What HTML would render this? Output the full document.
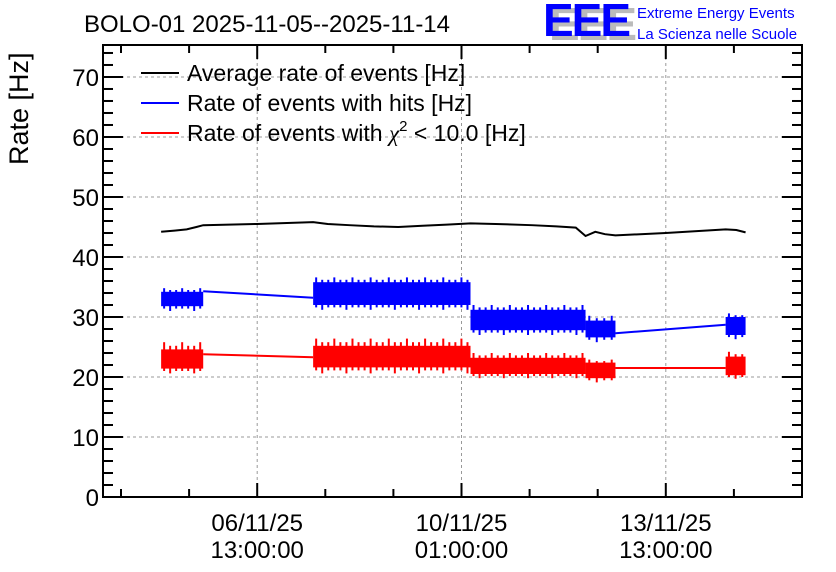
<!DOCTYPE html>
<html><head><meta charset="utf-8"><style>
html,body{margin:0;padding:0;background:#fff;}
svg{display:block;font-family:"Liberation Sans",sans-serif;}
</style></head><body>
<svg id="chart" width="836" height="572" viewBox="0 0 836 572" xmlns="http://www.w3.org/2000/svg">
<rect width="836" height="572" fill="#fff"/>
<text x="84" y="32" font-size="24">BOLO-01 2025-11-05--2025-11-14</text>
<g>
<text x="549" y="40" font-size="46" fill="#bbb" font-weight="bold" letter-spacing="-2">EEE</text>
<text x="543" y="36" font-size="46" fill="#00f" font-weight="bold" letter-spacing="-2">EEE</text>
<text x="637" y="18" font-size="15" fill="#00f">Extreme Energy Events</text>
<text x="637" y="39" font-size="15" fill="#00f">La Scienza nelle Scuole</text>
</g>
<text transform="translate(28,165) rotate(-90)" font-size="27">Rate [Hz]</text>
<g id="grid"></g>
<g id="series"></g>
<g id="axes"></g>
<g>
<g><line x1="141" y1="73" x2="179" y2="73" stroke="#000" stroke-width="2"/><text x="187" y="81" font-size="23">Average rate of events [Hz]</text></g>
<g><line x1="141" y1="103" x2="179" y2="103" stroke="#00f" stroke-width="2"/><text x="187" y="111" font-size="23">Rate of events with hits [Hz]</text></g>
<g><line x1="141" y1="133" x2="179" y2="133" stroke="#f00" stroke-width="2"/><text x="187" y="141" font-size="23">Rate of events with <tspan font-family="Liberation Serif" font-style="italic">χ</tspan><tspan font-size="15" dy="-10">2</tspan><tspan dy="10"> &lt; 10.0 [Hz]</tspan></text></g>
</g>
</svg>
<script>
// hours since 2025-11-05 00:00
const majorTicks = [37, 121, 205];
const majorLabels1 = ["06/11/25", "10/11/25", "13/11/25"];
const majorLabels2 = ["13:00:00", "01:00:00", "13:00:00"];
const minorTicks = [-19, 9, 37, 65, 93, 121, 149, 177, 205, 233];
const yTicks = [0, 10, 20, 30, 40, 50, 60, 70];
// noisy band segments (core) and extreme spikes
const bandStart = [-2.5, 60, 124.7, 172, 229.6];
const bandEnd = [14.8, 124.7, 172, 184.3, 237.8];
const hitsLo = [31.8, 32.0, 27.8, 26.6, 27.0];
const hitsHi = [34.2, 35.8, 31.2, 29.4, 30.0];
const hitsMin = [31.0, 31.2, 27.0, 25.8, 26.3];
const hitsMax = [34.8, 36.6, 32.0, 30.2, 30.6];
const chiLo = [21.4, 21.6, 20.5, 19.8, 20.3];
const chiHi = [24.6, 25.2, 23.2, 22.4, 23.4];
const chiMin = [20.6, 20.6, 19.8, 19.1, 19.7];
const chiMax = [25.8, 26.4, 24.0, 22.9, 24.2];
// gap lines between bands
const hitsGapT = [14.8, 60, 184.3, 229.6];
const hitsGapV = [34.3, 33.2, 27.3, 28.7];
const chiGapT = [14.8, 60, 184.3, 229.6];
const chiGapV = [23.8, 23.3, 21.5, 21.5];
// average rate
const avgT = [-2.5, 3, 8, 12, 14.8, 37, 60, 66, 75, 85, 95, 105, 115, 124.7, 135, 150, 160, 168, 172, 176, 180, 184.3, 205, 229.6, 234, 237.8];
const avgV = [44.2, 44.4, 44.6, 45.0, 45.3, 45.5, 45.8, 45.5, 45.3, 45.1, 45.0, 45.2, 45.4, 45.6, 45.5, 45.3, 45.1, 44.9, 43.5, 44.2, 43.8, 43.6, 44.0, 44.6, 44.5, 44.1];

const X0 = 103, X1 = 802, Y0 = 497, Y1 = 45;
const tMin = -26.4, tMax = 261;
const vMin = 0, vMax = 75.33;
function xs(t){ return X0 + (t - tMin) / (tMax - tMin) * (X1 - X0); }
function ys(v){ return Y0 - (v - vMin) / (vMax - vMin) * (Y0 - Y1); }
const NS = "http://www.w3.org/2000/svg";
function mk(tag, attrs, parent){ const e = document.createElementNS(NS, tag); for (const k in attrs) e.setAttribute(k, attrs[k]); parent.appendChild(e); return e; }
const grid = document.getElementById("grid"), ser = document.getElementById("series"), ax = document.getElementById("axes");

yTicks.forEach(v => {
  if (v > 0) {
    const g = mk("line", {x1: X0, x2: X1, y1: ys(v), y2: ys(v), stroke: "#999", "stroke-dasharray": "3,3", "stroke-width": 1}, grid);
    
    
  }
});
majorTicks.forEach(t => {
  const g = mk("line", {x1: xs(t), x2: xs(t), y1: Y1, y2: Y0, stroke: "#999", "stroke-dasharray": "3,3", "stroke-width": 1}, grid);
  
  
});

function bands(lo, hi, mn, mx, color, name){
  bandStart.forEach((s, i) => {
    const x0 = xs(s), x1 = xs(bandEnd[i]);
    const r = mk("rect", {x: x0, y: ys(hi[i]), width: x1 - x0, height: ys(lo[i]) - ys(hi[i]), fill: color}, ser);
    
    
    // spikes toward extremes
    const n = Math.max(2, Math.floor((x1 - x0) / 6));
    for (let k = 0; k < n; k++) {
      const x = x0 + (k + 0.5) * (x1 - x0) / n;
      const up = (k % 3 === 0) ? mx[i] : (hi[i] + mx[i]) / 2;
      const dn = (k % 4 === 1) ? mn[i] : (lo[i] + mn[i]) / 2;
      const sp = mk("line", {x1: x, x2: x, y1: ys(up), y2: ys(dn), stroke: color, "stroke-width": 2}, ser);
      
      
    }
  });
}
function gaps(T, V, color, name){
  for (let i = 0; i < T.length; i += 2) {
    const l = mk("line", {x1: xs(T[i]), y1: ys(V[i]), x2: xs(T[i+1]), y2: ys(V[i+1]), stroke: color, "stroke-width": 2}, ser);
    
    
  }
}
bands(hitsLo, hitsHi, hitsMin, hitsMax, "#00f", "hits");
gaps(hitsGapT, hitsGapV, "#00f", "hits");
bands(chiLo, chiHi, chiMin, chiMax, "#f00", "chi2");
gaps(chiGapT, chiGapV, "#f00", "chi2");
const avgLine = mk("polyline", {points: avgT.map((t, i) => xs(t) + "," + ys(avgV[i])).join(" "), fill: "none", stroke: "#000", "stroke-width": 2}, ser);



const frame = mk("rect", {x: X0, y: Y1, width: X1 - X0, height: Y0 - Y1, fill: "none", stroke: "#000", "stroke-width": 2}, ax);



for (let v = 0; v <= 75; v += 2) {
  const major = v % 10 === 0;
  const len = major ? 20 : 10;
  mk("line", {x1: X0, x2: X0 + len, y1: ys(v), y2: ys(v), stroke: "#000", "stroke-width": 2}, ax);
  mk("line", {x1: X1, x2: X1 - len, y1: ys(v), y2: ys(v), stroke: "#000", "stroke-width": 2}, ax);
}
yTicks.forEach(v => {
  const t = mk("text", {x: X0 - 4, y: ys(v) + 9, "font-size": 24, "text-anchor": "end"}, ax);
  t.textContent = v;
  
  
});
minorTicks.forEach(t => {
  const major = majorTicks.includes(t);
  const len = major ? 14 : 8;
  mk("line", {x1: xs(t), x2: xs(t), y1: Y0, y2: Y0 - len, stroke: "#000", "stroke-width": 2}, ax);
  mk("line", {x1: xs(t), x2: xs(t), y1: Y1, y2: Y1 + len, stroke: "#000", "stroke-width": 2}, ax);
});
majorTicks.forEach((t, i) => {
  const a = mk("text", {x: xs(t), y: 531, "font-size": 24, "text-anchor": "middle"}, ax);
  a.textContent = majorLabels1[i];
  
  
  const b = mk("text", {x: xs(t), y: 558, "font-size": 24, "text-anchor": "middle"}, ax);
  b.textContent = majorLabels2[i];
  
  
});
</script>
</body></html>
